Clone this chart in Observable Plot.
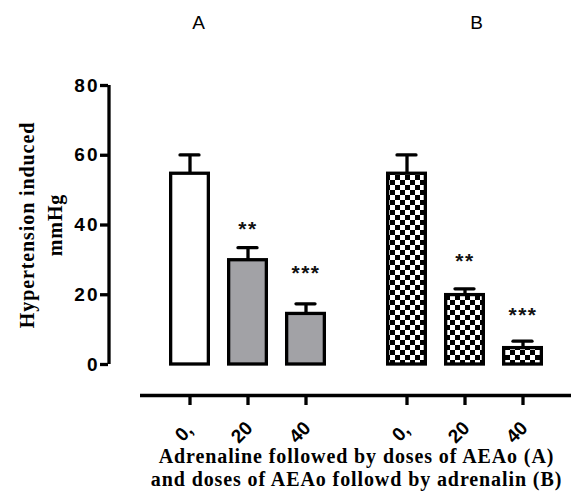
<!DOCTYPE html>
<html>
<head>
<meta charset="utf-8">
<script src="https://cdn.jsdelivr.net/npm/d3@7"></script>
<script src="https://cdn.jsdelivr.net/npm/@observablehq/plot@0.6"></script>
<style>
  html, body { margin: 0; padding: 0; background: #fff; }
</style>
</head>
<body>
<div id="chart"></div>
<script>
// ---- data ----
const groups = ["A", "B"];
const doses = ["0,", "20", "40"];
const meanA = [54.7, 29.9, 14.5];
const semA = [5.4, 3.6, 2.9];
const meanB = [54.7, 19.9, 4.7];
const semB = [5.4, 1.8, 2.0];
const sigA = ["", "**", "***"];
const sigB = ["", "**", "***"];
const starYA = [null, 38.8, 26.2];
const starYB = [null, 29.7, 14.2];
const yTicks = [0, 20, 40, 60, 80];
const yTitle = "Hypertension induced\nmmHg";
const xTitle = "Adrenaline followed by doses of AEAo (A)\nand doses of AEAo followd by adrenalin (B)";

const rows = groups.flatMap((g, gi) => doses.map((d, di) => ({
  group: g,
  dose: d,
  mean: (gi ? meanB : meanA)[di],
  sem: (gi ? semB : semA)[di],
  sig: (gi ? sigB : sigA)[di],
  starY: (gi ? starYB : starYA)[di]
})));
rows.forEach(r => r.top = r.mean + r.sem);

const SW = 3.3;
const serif = "'Liberation Serif', 'Times New Roman', serif";
const sans = "'Liberation Sans', Arial, sans-serif";

const svg = Plot.plot({
  width: 571,
  height: 504,
  marginLeft: 108,
  marginRight: 0,
  marginTop: 85,
  marginBottom: 140,
  style: {fontFamily: sans, background: "white", color: "black", overflow: "visible"},
  fx: {domain: groups, paddingInner: 0.106, paddingOuter: 0.1198, align: 0.827, axis: null, label: null},
  x: {domain: doses, padding: 0.29, axis: null, label: null},
  y: {domain: [0, 80], axis: null, label: null},
  marks: [
    // bars
    Plot.barY(rows.filter(r => r.group === groups[0] && r.dose === doses[0]),
      {fx: "group", x: "dose", y: "mean", fill: "white", stroke: "black", strokeWidth: SW, insetLeft: SW / 2, insetRight: SW / 2}),
    Plot.barY(rows.filter(r => r.group === groups[0] && r.dose !== doses[0]),
      {fx: "group", x: "dose", y: "mean", fill: "#a2a2a6", stroke: "black", strokeWidth: SW, insetLeft: SW / 2, insetRight: SW / 2}),
    Plot.barY(rows.filter(r => r.group === groups[1]),
      {fx: "group", x: "dose", y: "mean", fill: "url(#checker)", stroke: "black", strokeWidth: SW, insetLeft: SW / 2, insetRight: SW / 2}),
    // error bars
    Plot.ruleX(rows, {fx: "group", x: "dose", y1: "mean", y2: "top", stroke: "black", strokeWidth: SW}),
    Plot.tickY(rows, {fx: "group", x: "dose", y: "top", stroke: "black", strokeWidth: SW, strokeLinecap: "round", insetLeft: 11, insetRight: 11}),
    // significance stars
    Plot.text(rows.filter(r => r.sig), {fx: "group", x: "dose", y: "starY", text: "sig", fontSize: 21, fontWeight: "bold", fill: "#111"}),
    // y axis
    Plot.axisY({ticks: yTicks, anchor: "left", dx: -43, tickSize: 8, tickPadding: 1, strokeWidth: SW,
      fontSize: 19, fontWeight: "bold", label: null, tickFormat: d => d}),
    Plot.ruleX([{group: groups[0], dose: doses[0]}], {fx: "group", x: "dose", dx: -81, stroke: "black", strokeWidth: SW}),
    // x axis
    Plot.ruleY([0], {dy: 31, insetLeft: -11, insetRight: -12, stroke: "black", strokeWidth: SW}),
    Plot.axisX({anchor: "bottom", dy: 31, tickSize: 10, strokeWidth: SW, tickFormat: () => "", label: null}),
    Plot.text(rows, {fx: "group", x: "dose", text: "dose", frameAnchor: "bottom", lineAnchor: "middle", textAnchor: "middle",
      dy: 68, dx: -6, rotate: -45, fontSize: 19, fontWeight: "bold"}),
    // group labels
    Plot.text([groups[0]], {fx: d => d, text: d => d, frameAnchor: "top", lineAnchor: "middle", dy: -63, dx: -50, fontSize: 19}),
    Plot.text([groups[1]], {fx: d => d, text: d => d, frameAnchor: "top", lineAnchor: "middle", dy: -63, dx: 11, fontSize: 19}),
    // axis titles
    Plot.text([groups[0]], {fx: d => d, text: () => yTitle, frameAnchor: "left", textAnchor: "middle", lineAnchor: "middle",
      dx: -112, rotate: -90, fontFamily: serif, fontWeight: "bold", fontSize: 20, lineHeight: 1.4}),
    Plot.text([groups[0]], {fx: d => d, text: () => xTitle, frameAnchor: "bottom", textAnchor: "middle", lineAnchor: "middle",
      dx: 108, dy: 102.5, fontFamily: serif, fontWeight: "bold", fontSize: 20, lineHeight: 1.15})
  ]
});

// checkerboard pattern for group B bars
const defs = d3.select(svg).insert("defs", ":first-child");
const pat = defs.append("pattern").attr("id", "checker").attr("patternUnits", "userSpaceOnUse")
  .attr("width", 10).attr("height", 10);
pat.append("rect").attr("width", 10).attr("height", 10).attr("fill", "white");
pat.append("rect").attr("width", 5).attr("height", 5).attr("fill", "black");
pat.append("rect").attr("x", 5).attr("y", 5).attr("width", 5).attr("height", 5).attr("fill", "black");

// letter spacing like the original export
d3.select(svg).selectAll("text").each(function () {
  const t = this.textContent;
  if (/^\*+$/.test(t)) d3.select(this).style("letter-spacing", "1.5px");
  else if (t.startsWith("Hypertension") || t.startsWith("Adrenaline")) d3.select(this).style("letter-spacing", "0.9px");
  else if (/^\d0$|^0$/.test(t) && this.closest("[aria-label^='y-axis']")) d3.select(this).style("letter-spacing", "2px");
});

document.getElementById("chart").appendChild(svg);
</script>
</body>
</html>
